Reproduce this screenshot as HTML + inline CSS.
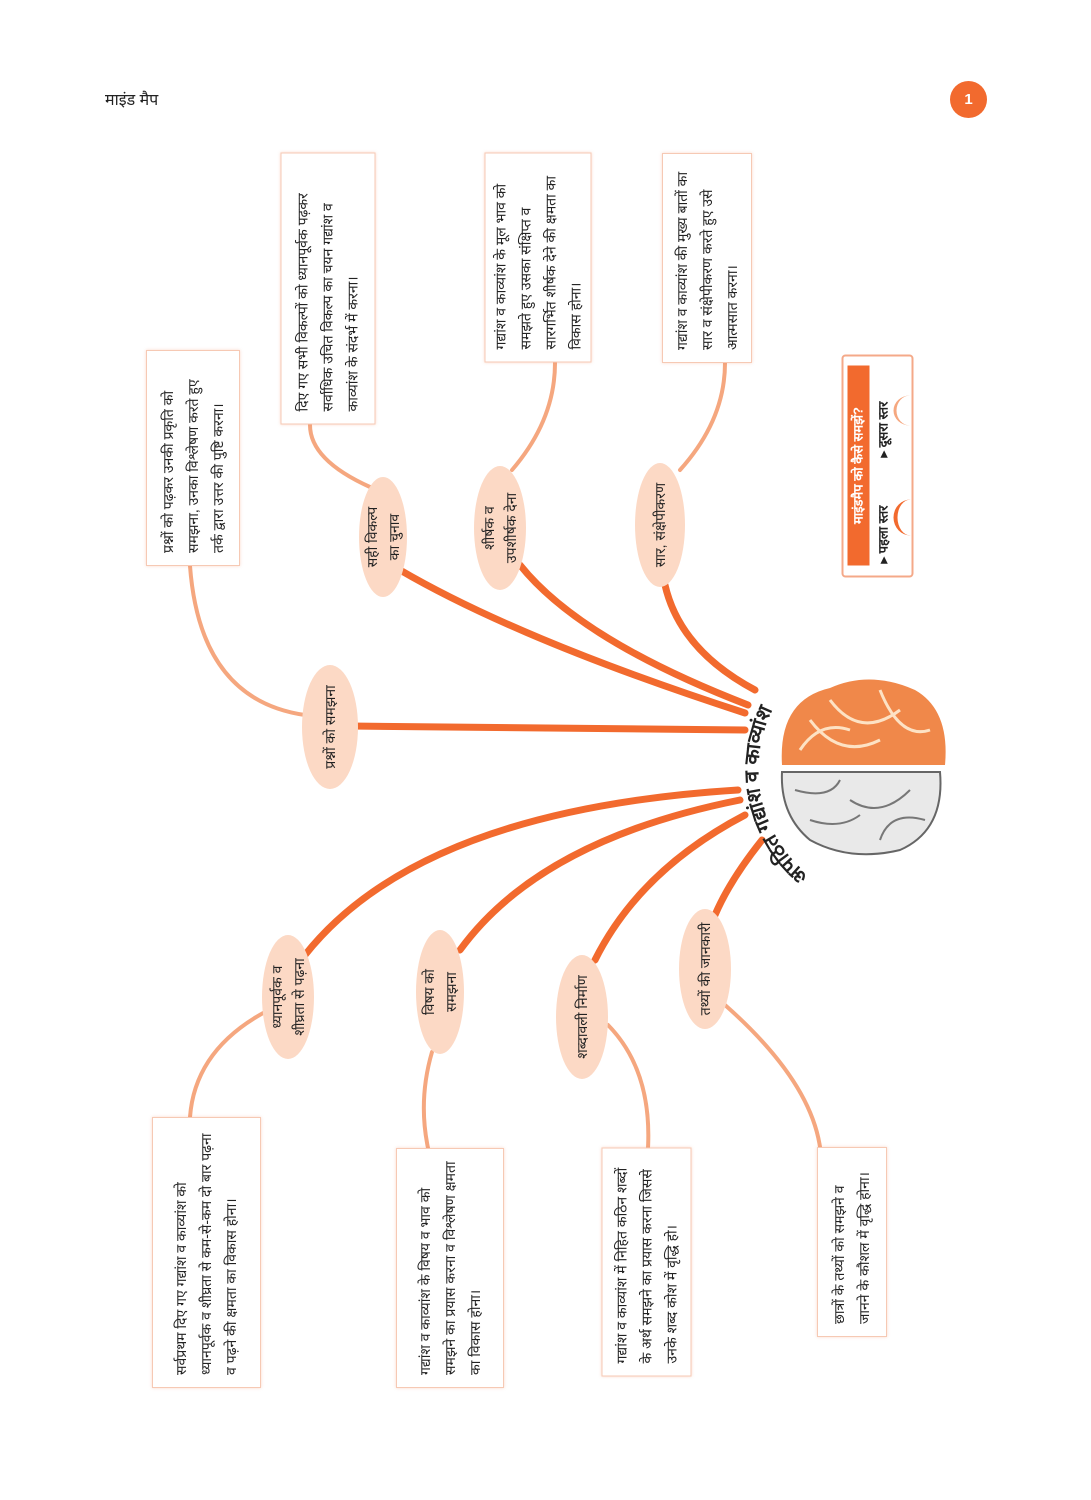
<!DOCTYPE html>
<html><head><meta charset="utf-8">
<style>
html,body{margin:0;padding:0;background:#fff;}
body{width:1091px;height:1500px;position:relative;overflow:hidden;font-family:"Liberation Sans",sans-serif;color:#222;}
.r{position:absolute;transform:rotate(-90deg);box-sizing:border-box;}
.box{border:1.5px solid #f6c9b4;background:#fff;box-shadow:0 0 3px rgba(240,140,100,.35);padding:8px 12px;font-size:14px;line-height:25px;display:flex;align-items:center;}
.lab{display:flex;align-items:center;justify-content:center;text-align:center;font-size:14px;line-height:22px;}
</style></head><body>
<div style="position:absolute;left:105px;top:88px;font-size:16px;">माइंड मैप</div>
<div style="position:absolute;left:950px;top:81px;width:37px;height:37px;border-radius:50%;background:#f26a2e;color:#fff;font-weight:bold;font-size:15px;text-align:center;line-height:37px;">1</div>

<svg width="1091" height="1500" style="position:absolute;left:0;top:0" xmlns="http://www.w3.org/2000/svg">
<g fill="none" stroke="#f5a77f" stroke-width="4" stroke-linecap="round">
<path d="M305,715 Q200,700 190,566"/>
<path d="M370,487 Q310,460 310,425"/>
<path d="M512,470 Q555,420 555,363"/>
<path d="M680,470 Q725,420 725,363"/>
<path d="M265,1012 Q195,1050 190,1117"/>
<path d="M432,1052 Q418,1100 428,1148"/>
<path d="M608,1025 Q652,1070 648,1148"/>
<path d="M725,1005 Q810,1080 820,1147"/>
</g>
<g fill="none" stroke="#f26a2e" stroke-width="7" stroke-linecap="round">
<path d="M350,726 L745,730"/>
<path d="M745,713 Q520,640 400,570"/>
<path d="M748,705 Q580,640 520,565"/>
<path d="M755,690 Q680,650 665,585"/>
<path d="M738,790 Q420,810 305,955"/>
<path d="M740,800 Q540,840 460,950"/>
<path d="M745,815 Q640,870 595,960"/>
<path d="M762,840 Q730,880 715,915"/>
</g>
<g fill="#fcd9c5">
<ellipse cx="330" cy="727" rx="28" ry="62"/>
<ellipse cx="383" cy="537" rx="24" ry="60"/>
<ellipse cx="500" cy="528" rx="26" ry="62"/>
<ellipse cx="660" cy="525" rx="25" ry="62"/>
<ellipse cx="288" cy="997" rx="26" ry="62"/>
<ellipse cx="440" cy="992" rx="24" ry="62"/>
<ellipse cx="582" cy="1017" rx="26" ry="62"/>
<ellipse cx="705" cy="969" rx="26" ry="60"/>
</g>
<!-- brain -->
<path d="M782,765 Q778,700 830,688 Q870,670 915,690 Q950,710 945,765 Z" fill="#f0884a"/>
<path d="M800,750 Q820,720 850,730 M830,700 Q860,740 900,710 M880,690 Q900,740 930,730 M810,720 Q840,760 880,740" stroke="#fde2c4" stroke-width="3" fill="none"/>
<path d="M782,772 L940,772 Q945,830 900,850 Q850,862 810,840 Q780,815 782,772 Z" fill="#e9e9e9" stroke="#666" stroke-width="2"/>
<path d="M795,790 Q830,800 840,780 M850,800 Q880,820 910,790 M810,820 Q840,830 860,815 M880,840 Q890,810 925,820" stroke="#777" stroke-width="2" fill="none"/>
<path id="arc" d="M815,880 A135,135 0 0,1 815,660" fill="none"/>
<text font-size="20" font-weight="bold" fill="#222" font-family="Liberation Sans,sans-serif"><textPath href="#arc" startOffset="8">अपठित गद्यांश व काव्यांश</textPath></text>
</svg>

<div class="r box" style="left:85px;top:411px;width:216px;height:94px;">प्रश्नों को पढ़कर उनकी प्रकृति को समझना, उनका विश्लेषण करते हुए तर्क द्वारा उत्तर की पुष्टि करना।</div>
<div class="r box" style="left:192px;top:241px;width:272px;height:95px;">दिए गए सभी विकल्पों को ध्यानपूर्वक पढ़कर सर्वाधिक उचित विकल्प का चयन गद्यांश व काव्यांश के संदर्भ में करना।</div>
<div class="r box" style="left:433px;top:204px;width:210px;height:107px;">गद्यांश व काव्यांश के मूल भाव को समझते हुए उसका संक्षिप्त व सारगर्भित शीर्षक देने की क्षमता का विकास होना।</div>
<div class="r box" style="left:602px;top:213px;width:210px;height:90px;">गद्यांश व काव्यांश की मुख्य बातों का सार व संक्षेपीकरण करते हुए उसे आत्मसात करना।</div>
<div class="r box" style="left:71px;top:1198px;width:271px;height:109px;">सर्वप्रथम दिए गए गद्यांश व काव्यांश को ध्यानपूर्वक व शीघ्रता से कम-से-कम दो बार पढ़ना व पढ़ने की क्षमता का विकास होना।</div>
<div class="r box" style="left:330px;top:1214px;width:240px;height:108px;">गद्यांश व काव्यांश के विषय व भाव को समझने का प्रयास करना व विश्लेषण क्षमता का विकास होना।</div>
<div class="r box" style="left:532px;top:1217px;width:229px;height:90px;">गद्यांश व काव्यांश में निहित कठिन शब्दों के अर्थ समझने का प्रयास करना जिससे उनके शब्द कोश में वृद्धि हो।</div>
<div class="r box" style="left:757px;top:1207px;width:190px;height:70px;">छात्रों के तथ्यों को समझने व जानने के कौशल में वृद्धि होना।</div>

<div class="r" style="left:766px;top:430px;width:223px;height:72px;border:2px solid #f4a989;border-radius:4px;background:#fff;">
<div style="position:absolute;left:10px;top:4px;width:200px;height:22px;background:#f26a2e;color:#fff;font-weight:bold;font-size:13px;line-height:22px;text-align:center;">माइंडमैप को कैसे समझें?</div>
<div style="position:absolute;left:12px;top:30px;font-size:13px;font-weight:bold;">▸ पहला स्तर</div>
<div style="position:absolute;left:118px;top:30px;font-size:13px;font-weight:bold;">▸ दूसरा स्तर</div>
<div style="position:absolute;left:40px;top:50px;width:36px;height:30px;border-top:4px solid #f26a2e;border-radius:50% 50% 0 0;"></div>
<div style="position:absolute;left:150px;top:50px;width:30px;height:30px;border-top:3px solid #f5a77f;border-radius:50% 50% 0 0;"></div>
</div>

<div class="r lab" style="left:270px;top:700px;width:120px;height:54px;">प्रश्नों को समझना</div>
<div class="r lab" style="left:325px;top:513px;width:116px;height:48px;">सही विकल्प<br>का चुनाव</div>
<div class="r lab" style="left:442px;top:502px;width:116px;height:52px;">शीर्षक व<br>उपशीर्षक देना</div>
<div class="r lab" style="left:602px;top:500px;width:116px;height:50px;">सार, संक्षेपीकरण</div>
<div class="r lab" style="left:230px;top:971px;width:116px;height:52px;">ध्यानपूर्वक व<br>शीघ्रता से पढ़ना</div>
<div class="r lab" style="left:382px;top:968px;width:116px;height:48px;">विषय को<br>समझना</div>
<div class="r lab" style="left:524px;top:991px;width:116px;height:52px;">शब्दावली निर्माण</div>
<div class="r lab" style="left:647px;top:943px;width:116px;height:52px;">तथ्यों की जानकारी</div>
</body></html>
